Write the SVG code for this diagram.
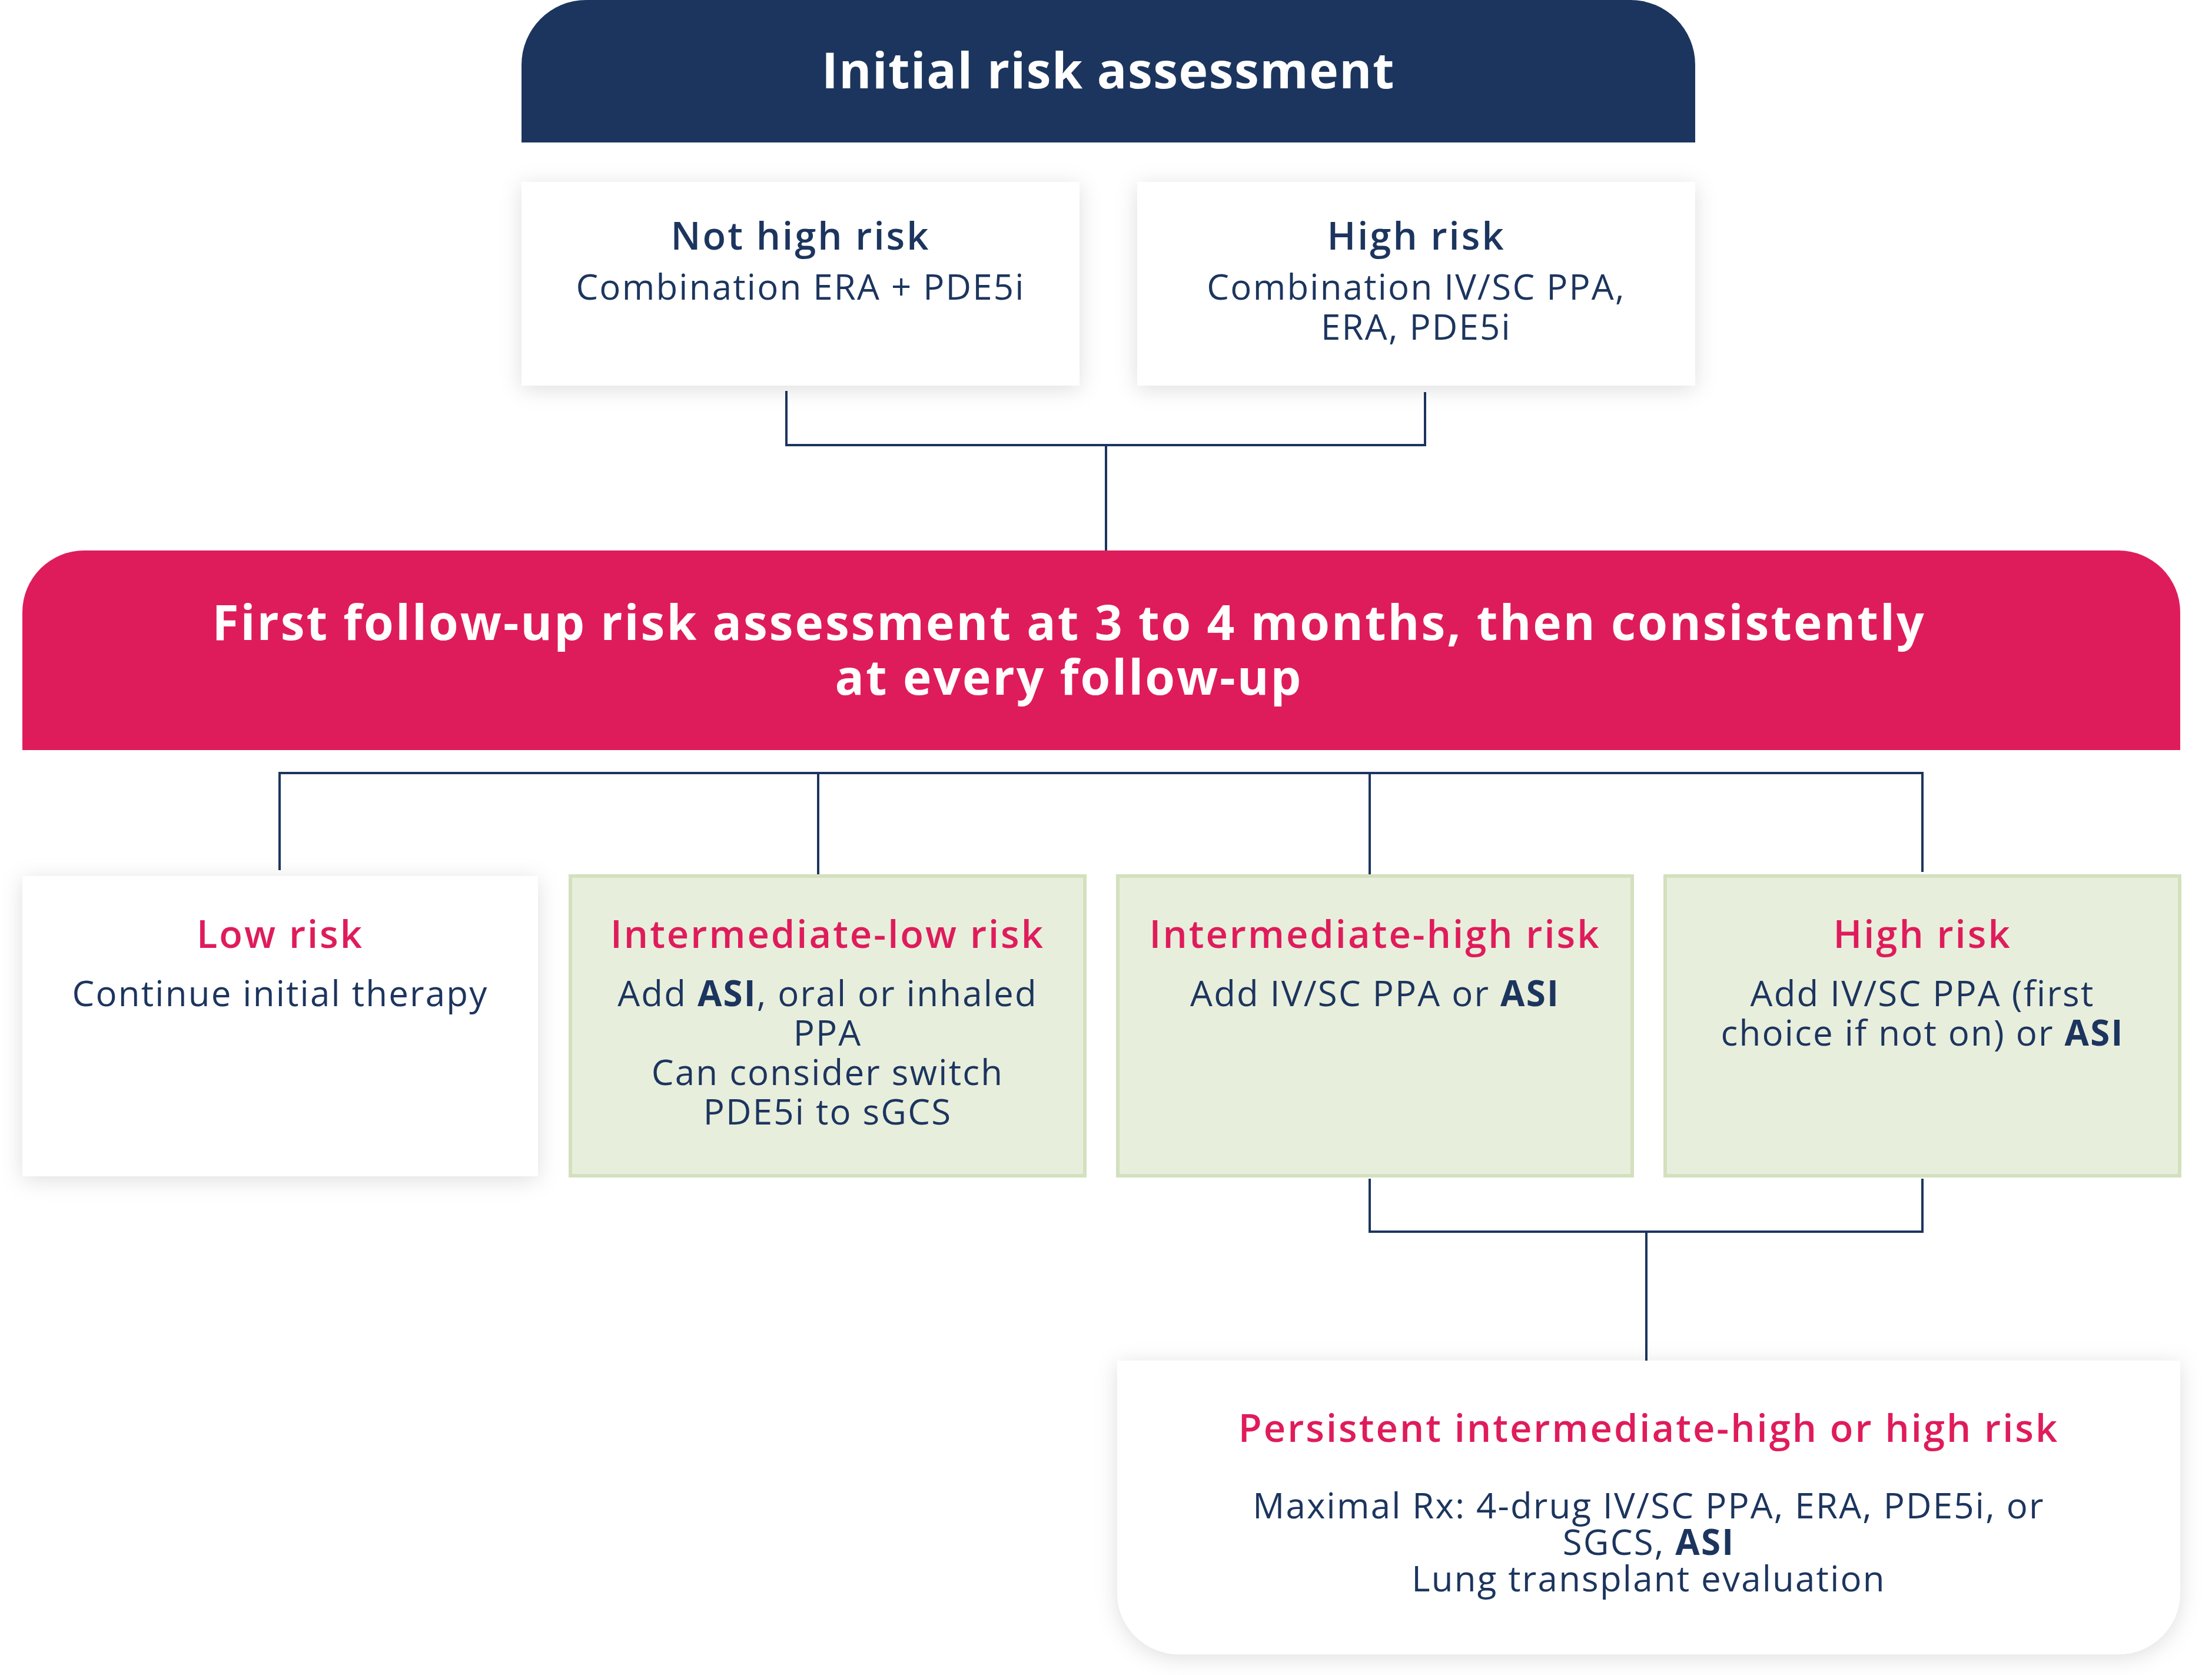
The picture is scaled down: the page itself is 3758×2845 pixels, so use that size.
<svg xmlns="http://www.w3.org/2000/svg" width="3758" height="2845" viewBox="0 0 3758 2845">
<style>
text{font-family:"Open Sans","Liberation Sans",sans-serif;text-anchor:middle}
.hdr{fill:#fff;font-weight:700}
.sub{fill:#1C355E;font-weight:600;font-size:65px;letter-spacing:3px}
.red{fill:#DF1C5B;font-weight:600;font-size:65px;letter-spacing:3px}
.body{fill:#1C355E;font-weight:400;font-size:60px;letter-spacing:2.2px}
.b{font-weight:700}
.white{fill:#fff}
.green{fill:#E8EEDC;stroke:#D3E0BD;stroke-width:6}
.conn{fill:none;stroke:#1C355E;stroke-width:4}
</style>
<defs>
<filter id="sh" x="-20%" y="-30%" width="140%" height="160%">
<feDropShadow dx="0" dy="6" stdDeviation="18" flood-color="#000" flood-opacity="0.13"/>
</filter>
</defs>
<rect width="3758" height="2845" fill="#fff"/>

<g id="connectors">
<path class="conn" d="M1336,664 V756 H2421 V666"/>
<path class="conn" d="M1879,756 V936"/>
<path class="conn" d="M475,1478 V1313 H3266 V1481"/>
<path class="conn" d="M1390,1313 V1487"/>
<path class="conn" d="M2327,1313 V1487"/>
<path class="conn" d="M2327,2002 V2092 H3266 V2002"/>
<path class="conn" d="M2797,2092 V2311"/>
</g>

<g id="initial">
<path d="M886,242 V110 A110,110 0 0 1 996,0 H2770 A110,110 0 0 1 2880,110 V242 Z" fill="#1C355E"/>
<text class="hdr" x="1883" y="150" font-size="84" letter-spacing="1.5">Initial risk assessment</text>
</g>

<g id="not-high">
<rect class="white" x="886" y="309" width="948" height="346" filter="url(#sh)"/>
<text class="sub" x="1360" y="424">Not high risk</text>
<text class="body" x="1360" y="509">Combination ERA + PDE5i</text>
</g>

<g id="high-initial">
<rect class="white" x="1932" y="309" width="948" height="346" filter="url(#sh)"/>
<text class="sub" x="2406" y="424">High risk</text>
<text class="body" x="2406" y="509">Combination IV/SC PPA,</text>
<text class="body" x="2406" y="577">ERA, PDE5i</text>
</g>

<g id="followup">
<path d="M38,1274 V1040 A105,105 0 0 1 143,935 H3599 A105,105 0 0 1 3704,1040 V1274 Z" fill="#DF1C5B"/>
<text class="hdr" x="1816" y="1087" font-size="82" letter-spacing="3">First follow-up risk assessment at 3 to 4 months, then consistently</text>
<text class="hdr" x="1816" y="1180" font-size="82" letter-spacing="3">at every follow-up</text>
</g>

<g id="low">
<rect class="white" x="38" y="1488" width="876" height="510" filter="url(#sh)"/>
<text class="red" x="476" y="1610">Low risk</text>
<text class="body" x="476" y="1709">Continue initial therapy</text>
</g>

<g id="int-low">
<rect class="green" x="969" y="1488" width="874" height="509"/>
<text class="red" x="1406" y="1610">Intermediate-low risk</text>
<text class="body" x="1406" y="1709">Add <tspan class="b">ASI</tspan>, oral or inhaled</text>
<text class="body" x="1406" y="1776">PPA</text>
<text class="body" x="1406" y="1843">Can consider switch</text>
<text class="body" x="1406" y="1910">PDE5i to sGCS</text>
</g>

<g id="int-high">
<rect class="green" x="1899" y="1488" width="874" height="509"/>
<text class="red" x="2336" y="1610">Intermediate-high risk</text>
<text class="body" x="2336" y="1709">Add IV/SC PPA or <tspan class="b">ASI</tspan></text>
</g>

<g id="high-follow">
<rect class="green" x="2829" y="1488" width="874" height="509"/>
<text class="red" x="3266" y="1610">High risk</text>
<text class="body" x="3266" y="1709">Add IV/SC PPA (first</text>
<text class="body" x="3266" y="1776">choice if not on) or <tspan class="b">ASI</tspan></text>
</g>

<g id="persistent">
<path d="M1898,2311 H3704 V2705 A105,105 0 0 1 3599,2810 H2003 A105,105 0 0 1 1898,2705 Z" fill="#fff" filter="url(#sh)"/>
<text class="red" x="2801" y="2449">Persistent intermediate-high or high risk</text>
<text class="body" x="2801" y="2579">Maximal Rx: 4-drug IV/SC PPA, ERA, PDE5i, or</text>
<text class="body" x="2801" y="2641">SGCS, <tspan class="b">ASI</tspan></text>
<text class="body" x="2801" y="2703">Lung transplant evaluation</text>
</g>
</svg>
